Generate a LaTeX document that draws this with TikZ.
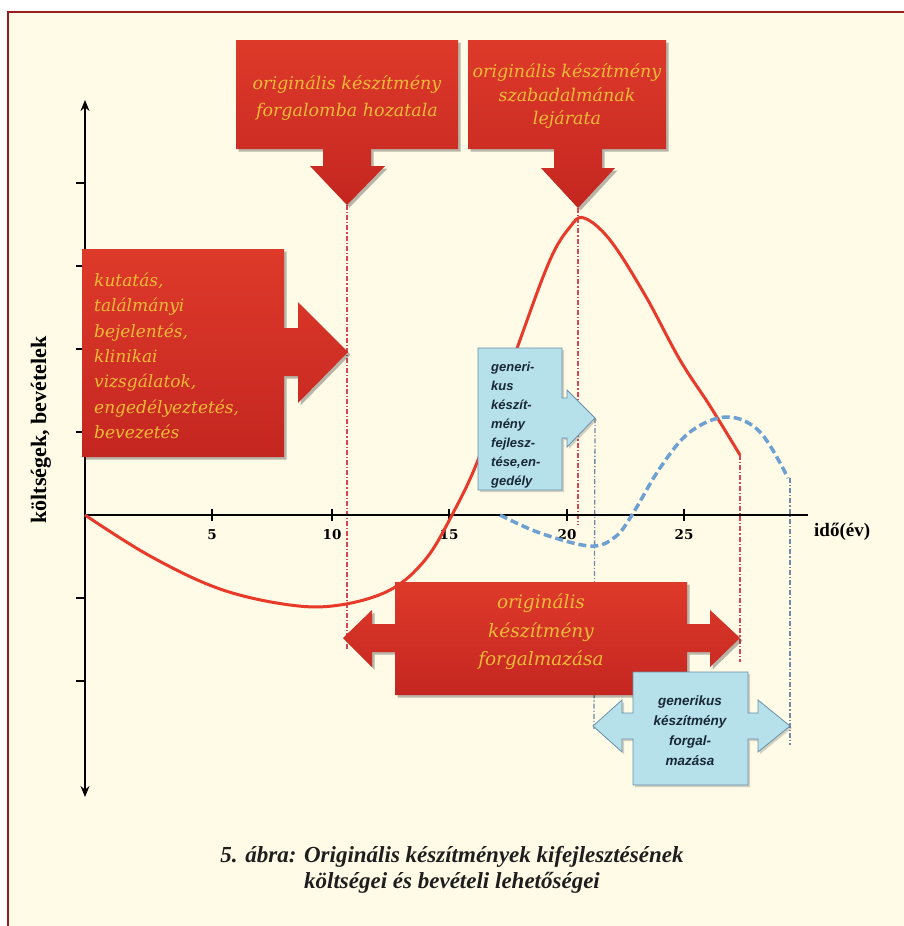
\documentclass[tikz,border=0pt]{standalone}
\usepackage{fontspec}
\setmainfont{Liberation Serif}
\newfontfamily\slab{DejaVu Serif}
\newfontfamily\gsans{Liberation Sans}
\usetikzlibrary{shadows,arrows.meta}

\definecolor{cream}{RGB}{255,251,230}
\definecolor{framered}{RGB}{150,30,30}
\definecolor{redtop}{RGB}{222,58,42}
\definecolor{redbot}{RGB}{196,38,32}
\definecolor{goldtxt}{RGB}{240,188,56}
\definecolor{cyanfill}{RGB}{182,225,235}
\definecolor{cyanedge}{RGB}{105,145,170}
\definecolor{cyantxt}{RGB}{25,40,55}
\definecolor{curvered}{RGB}{232,58,42}
\definecolor{curveblue}{RGB}{110,160,210}
\definecolor{guidered}{RGB}{215,70,85}
\definecolor{guideblue}{RGB}{110,140,170}

\tikzset{
  redblock/.style={top color=redtop, bottom color=redbot, draw=none,
    drop shadow={shadow xshift=2.5pt, shadow yshift=-2.5pt, opacity=0.35, fill=black!80}},
  cyanblock/.style={fill=cyanfill, draw=cyanedge, line width=0.8pt,
    drop shadow={shadow xshift=2pt, shadow yshift=-2pt, opacity=0.25, fill=black!70}},
  redtext/.style={text=goldtxt, inner sep=0pt, font=\slab\itshape\fontsize{17.5}{27}\selectfont},
  cyantext/.style={text=cyantxt, inner sep=0pt, font=\gsans\bfseries\itshape\fontsize{13}{19}\selectfont},
  axisline/.style={line width=2.2pt, black},
  tickline/.style={line width=1.6pt, black},
  ticklabel/.style={inner sep=0pt, font=\slab\bfseries\fontsize{13.5}{15}\selectfont},
  guidered/.style={draw=guidered, line width=1.3pt, dash pattern=on 5pt off 2pt on 1.2pt off 2pt},
  guideblue/.style={draw=guideblue, line width=1.3pt, dash pattern=on 5pt off 2pt on 1.2pt off 2pt},
  origcurve/.style={draw=curvered, line width=3pt},
  gencurve/.style={draw=curveblue, line width=3.5pt, dash pattern=on 8pt off 4pt},
}

\begin{document}
\begin{tikzpicture}[x=1pt,y=-1pt]
\useasboundingbox (0,0) rectangle (904,926);

% page background and frame
\fill[white] (0,0) rectangle (904,926);
\fill[cream] (8,12) rectangle (904,926);
\draw[framered, line width=1.6pt] (8,926) -- (8,12) -- (904,12);

% arrow tips used as anchors for the guide lines
\coordinate (tipIntro) at (347,205);
\coordinate (tipPatent) at (578,208);
\coordinate (tipResearch) at (348,352);
\coordinate (tipGenDev) at (595,418);
\coordinate (origEnd) at (740,455);
\coordinate (genEnd) at (790,478);
\coordinate (guideA) at (347,650);
\coordinate (guideB) at (578,525);
\coordinate (guideC) at (740,662);
\coordinate (guideD) at (594,730);
\coordinate (guideE) at (790,745);

% vertical guide lines
\draw[guidered] (tipIntro) -- (guideA);
\draw[guidered] (tipPatent) -- (guideB);
\draw[guidered] (origEnd) -- (guideC);
\draw[guideblue] (tipGenDev) -- (guideD);
\draw[guideblue] (genEnd) -- (guideE);

% axes
\coordinate (origin) at (85,515);
\coordinate (ytop) at (85,100);
\coordinate (ybot) at (85,797);
\coordinate (xend) at (808,515);
\draw[axisline, {Stealth[length=11pt,width=9pt]}-{Stealth[length=11pt,width=9pt]}] (ybot) -- (ytop);
\draw[axisline] (origin) -- (xend);
\foreach \yy in {183,266,349,432,598,681} \draw[tickline] (76,\yy) -- (85,\yy);
\foreach \xx/\lab in {212/5,332/10,449/15,567/20,684/25} {
  \draw[tickline] (\xx,509) -- (\xx,521);
  \node[ticklabel] (tick\lab) at (\xx,535) {\lab};
}
\node[anchor=west, inner sep=0pt, font=\bfseries\fontsize{19}{20}\selectfont] (xlab) at (814,532) {idő(év)};
\node[rotate=90, inner sep=0pt, font=\bfseries\fontsize{22}{24}\selectfont] (ylab) at (41,430) {költségek, bevételek};

% cost and revenue curves
\draw[origcurve] plot[smooth, tension=0.6] coordinates {(85,515) (150,556) (220,589) (290,605) (340,605) (390,590) (425,560) (452,515) (480,455) (520,340) (550,260) (570,227) (584,218) (610,240) (645,295) (680,360) (710,406) (740,455)};
\draw[gencurve] plot[smooth, tension=0.6] coordinates {(500,515) (540,533) (590,546) (615,537) (632,515) (660,468) (690,432) (727,417) (760,432) (788,478)};

% top block arrows
\path[redblock] (236,40) -- (458,40) -- (458,149) -- (371,149) -- (371,166) -- (385,166) -- (tipIntro) -- (310,166) -- (323,166) -- (323,149) -- (236,149) -- cycle;
\node[redtext, align=center] (introText) at (347,98) {originális készítmény\\forgalomba hozatala};

\path[redblock] (468,40) -- (666,40) -- (666,149) -- (602,149) -- (602,168) -- (615,168) -- (tipPatent) -- (541,168) -- (554,168) -- (554,149) -- (468,149) -- cycle;
\node[redtext, align=center, font=\slab\itshape\fontsize{17.5}{23.5}\selectfont] (patentText) at (567,96) {originális készítmény\\szabadalmának\\lejárata};

% research block
\path[redblock] (82,249) -- (284,249) -- (284,328) -- (298,328) -- (298,302) -- (tipResearch) -- (298,403) -- (298,376) -- (284,376) -- (284,457) -- (82,457) -- cycle;
\node[redtext, align=left, anchor=west, font=\slab\itshape\fontsize{17}{25.3}\selectfont] (researchText) at (94,356) {kutatás,\\találmányi\\bejelentés,\\klinikai\\vizsgálatok,\\engedélyeztetés,\\bevezetés};

% generic development block
\path[cyanblock] (478,348) -- (562,348) -- (562,398) -- (567,398) -- (567,390) -- (tipGenDev) -- (567,447) -- (567,438) -- (562,438) -- (562,490) -- (478,490) -- cycle;
\node[cyantext, align=left, anchor=west] (genDevText) at (491,425) {generi-\\kus\\készít-\\mény\\fejlesz-\\tése,en-\\gedély};

% original marketing block
\coordinate (origL) at (343,638);
\coordinate (origR) at (740,638);
\path[redblock] (395,582) -- (687,582) -- (687,624) -- (710,624) -- (710,610) -- (origR) -- (710,667) -- (710,652) -- (687,652) -- (687,695) -- (395,695) -- (395,652) -- (372,652) -- (372,667) -- (origL) -- (372,610) -- (372,624) -- (395,624) -- cycle;
\node[redtext, align=center, font=\slab\itshape\fontsize{18.5}{28.5}\selectfont] (origMktText) at (541,632) {originális\\készítmény\\forgalmazása};

% generic marketing block
\coordinate (genL) at (593,726);
\coordinate (genR) at (790,726);
\path[cyanblock] (633,672) -- (748,672) -- (748,713) -- (758,713) -- (758,700) -- (genR) -- (758,752) -- (758,739) -- (748,739) -- (748,785) -- (633,785) -- (633,739) -- (622,739) -- (622,752) -- (genL) -- (622,700) -- (622,713) -- (633,713) -- cycle;
\node[cyantext, align=center, font=\gsans\bfseries\itshape\fontsize{13.5}{20}\selectfont] (genMktText) at (690,731) {generikus\\készítmény\\forgal-\\mazása};

% caption
\node[align=center, inner sep=0pt, text={rgb,255:red,30;green,30;blue,30}, font=\bfseries\itshape\fontsize{23}{26}\selectfont] (caption) at (452,870) {5. ábra: Originális készítmények kifejlesztésének\\költségei és bevételi lehetőségei};
\end{tikzpicture}
\end{document}
